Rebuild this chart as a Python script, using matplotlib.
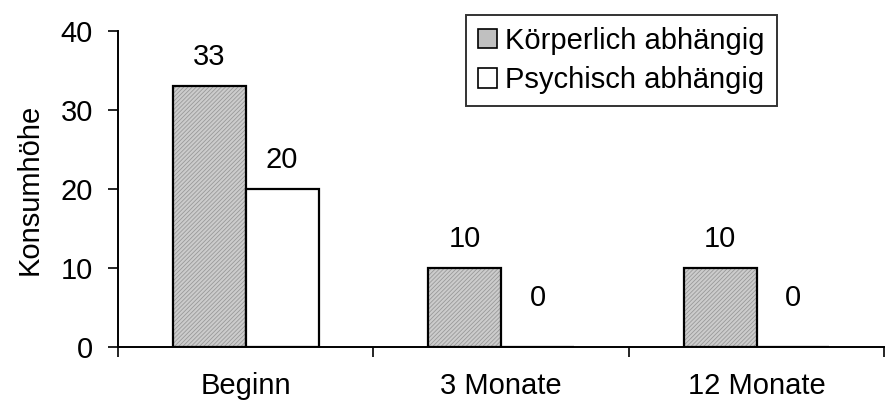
import matplotlib
matplotlib.use("Agg")
import matplotlib.pyplot as plt
import numpy as np
from matplotlib.patches import Patch

plt.rcParams['font.family'] = ['Liberation Sans', 'DejaVu Sans']
plt.rcParams['hatch.linewidth'] = 0.6

categories = ["Beginn", "3 Monate", "12 Monate"]
koerperlich = [33, 10, 10]
psychisch = [20, 0, 0]
series_names = ["Körperlich abhängig", "Psychisch abhängig"]

fs = 21

fig = plt.figure(figsize=(8.85, 4.08), dpi=100)
ax = fig.add_axes([0.1333, 0.1495, 0.866, 0.775])

x = np.arange(len(categories))
w = 0.285

# hatched grey bars, outline drawn separately
ax.bar(x - w / 2, koerperlich, w, color="#cccccc", hatch="////////",
       edgecolor="#999999", linewidth=0, zorder=2)
ax.bar(x - w / 2, koerperlich, w, fill=False, edgecolor="black", linewidth=1.6, zorder=3)
ax.bar(x + w / 2, psychisch, w, color="white", edgecolor="black", linewidth=1.6, zorder=3)

# value labels
for xi, v in zip(x - w / 2, koerperlich):
    ax.annotate(str(v), (xi, v), xytext=(0, 21 if v else 35), textcoords="offset points",
                ha="center", va="center", fontsize=fs)
for xi, v in zip(x + w / 2, psychisch):
    ax.annotate(str(v), (xi, v), xytext=(0, 21 if v else 35), textcoords="offset points",
                ha="center", va="center", fontsize=fs)

ax.set_xlim(-0.5, 2.5)
ax.set_ylim(0, 40)
ax.set_yticks([0, 10, 20, 30, 40])
ax.tick_params(axis="y", direction="out", length=7, width=1.2, labelsize=fs, pad=11)

ax.set_xticks([-0.5, 0.5, 1.5, 2.5])
ax.set_xticklabels([])
ax.tick_params(axis="x", which="major", direction="out", length=7, width=1.2)
ax.set_xticks(x, minor=True)
ax.set_xticklabels(categories, minor=True, fontsize=fs)
ax.tick_params(axis="x", which="minor", length=0, pad=18)

for s in ["top", "right"]:
    ax.spines[s].set_visible(False)
ax.spines["left"].set_linewidth(1.4)
ax.spines["bottom"].set_linewidth(1.4)

ax.set_ylabel("Konsumhöhe", fontsize=fs, labelpad=12)

handles = [Patch(facecolor="#c0c0c0", edgecolor="black", linewidth=1.2),
           Patch(facecolor="white", edgecolor="black", linewidth=1.2)]
leg = ax.legend(handles, series_names, loc="upper left", bbox_to_anchor=(466 / 885, 1 - 15 / 408),
                bbox_transform=fig.transFigure,
                fontsize=fs, frameon=True, fancybox=False, handlelength=0.65,
                handleheight=0.65, handletextpad=0.3, borderpad=0.4, labelspacing=0.4,
                borderaxespad=0)
leg.get_frame().set_edgecolor("black")
leg.get_frame().set_linewidth(1.4)

fig.savefig("out.png", dpi=100)
